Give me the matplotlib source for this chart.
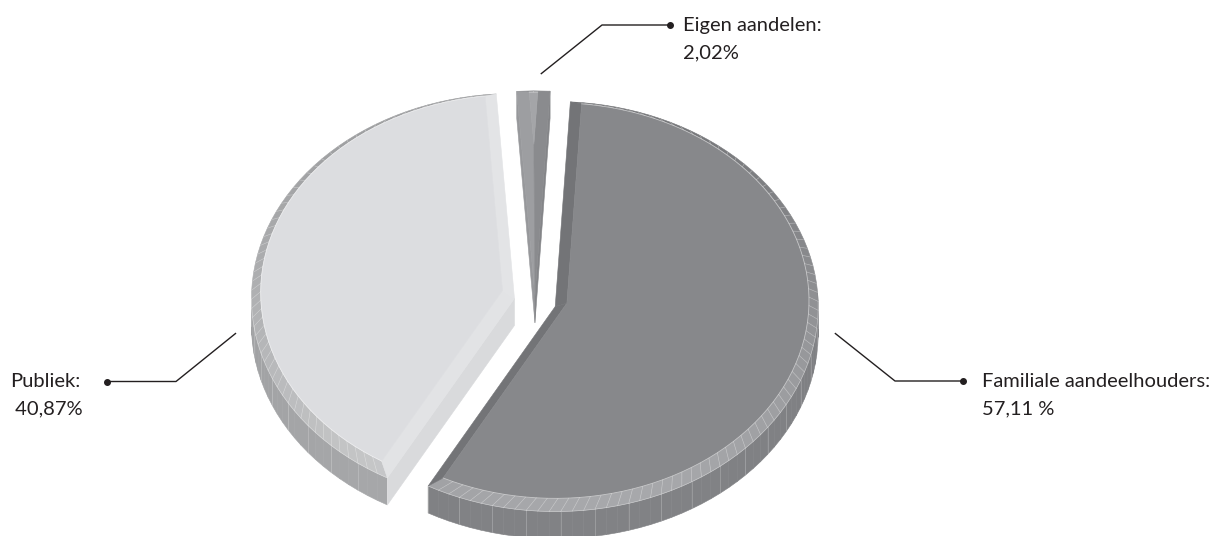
import numpy as np
import matplotlib.pyplot as plt
from matplotlib.patches import Polygon
from matplotlib.colors import to_rgb

plt.rcParams['font.family'] = ['Lato', 'DejaVu Sans']

labels = ['Familiale aandeelhouders:', 'Publiek:', 'Eigen aandelen:']
values = [57.11, 40.87, 2.02]
value_labels = ['57,11 %', ' 40,87%', '2,02%']

# slice styling: top face, rim bevel (dark/light side), wall, radial bevel strips
top_colors = ['#87888b', '#dcdde0', '#a4a5a8']
bevel_dark = ['#6f7073', '#9c9d9f', '#8a8b8e']
bevel_light = ['#a7a8ab', '#cbcccd', '#b0b1b4']
wall_dark = ['#7a7b7e', '#9a9b9d', '#88898c']
wall_light = ['#818285', '#a8a9ab', '#939497']
edge_colors = [('#737477', '#737477'), ('#e2e3e5', '#e3e4e6'), ('#9d9ea1', '#8a8b8e')]
explode = [0.08, 0.08, 0.03]

# label layout: rim anchor (angle, radius), elbow and dot in pixels, text origin
anchor_t = [98.5, 259.4, 1.2]
anchor_r = [1.075, 1.077, 1.053]
elbow = [(895, 381), (176, 381.5), (602, 25)]
dot = [(962.5, 381), (107, 381.5), (670, 25)]
text_pos = [(982, 386.7), (10, 386.7), (683, 30.5)]
line_gap = 27.4

W, H = 1225, 536
CX, CY = 535, 296
RX, RY = 263, 205
START = 3.3
INSET = 0.035
EDGE_INSET = 0.045
DROP = 6
DEPTH = 27
LIGHT = 170
STEP = 2.5
INK = '#231f20'


def mix(c1, c2, f):
    a, b = np.array(to_rgb(c1)), np.array(to_rgb(c2))
    return tuple(a + (b - a) * float(np.clip(f, 0, 1)))


def shade(t):
    return (np.cos(np.radians(t - LIGHT)) + 1) / 2


def proj(o, r, t, z=0.0):
    t = np.radians(np.atleast_1d(np.asarray(t, float)))
    x = o[0] + r * RX * np.sin(t)
    y = o[1] - r * RY * np.cos(t) + z
    return np.column_stack([x, y])


fig = plt.figure(figsize=(W / 100, H / 100), dpi=100)
ax = fig.add_axes([0, 0, 1, 1])
ax.set_xlim(0, W)
ax.set_ylim(H, 0)
ax.axis('off')


def poly(pts, color):
    ax.add_patch(Polygon(pts, closed=True, fc=color, ec=color, lw=0.4))


bounds = START + 360 * np.concatenate([[0], np.cumsum(values)]) / sum(values)
mids = (bounds[:-1] + bounds[1:]) / 2
origins = [(CX + explode[i] * RX * np.sin(np.radians(m)),
            CY - explode[i] * RY * np.cos(np.radians(m))) for i, m in enumerate(mids)]

# back slices first
order = sorted(range(len(values)), key=lambda i: -np.cos(np.radians(mids[i])))

for i in order:
    a0, a1 = bounds[i], bounds[i + 1]
    o = origins[i]
    n = max(3, int((a1 - a0) / STEP) + 1)
    ts = np.linspace(a0, a1, n)
    d = np.degrees(np.arcsin(EDGE_INSET / (1 - INSET)))
    ts_in = np.linspace(a0 + d, a1 - d, n)
    half = np.radians((a1 - a0) / 2)
    r_apex = min(EDGE_INSET / np.sin(half), 0.9)
    apex_in = proj(o, r_apex, mids[i], 0)

    # outer wall, back to front
    segs = [(ts[j], ts[j + 1]) for j in range(n - 1)]
    segs = [s for s in segs if np.cos(np.radians((s[0] + s[1]) / 2)) < 0.05]
    segs.sort(key=lambda s: -np.cos(np.radians((s[0] + s[1]) / 2)))
    for t0, t1 in segs:
        tm = (t0 + t1) / 2
        pts = np.vstack([proj(o, 1, [t0, t1], DROP), proj(o, 1, [t1, t0], DROP + DEPTH)])
        poly(pts, mix(wall_dark[i], wall_light[i], shade(tm)))

    # radial cut faces that turn toward the viewer
    for t, nrm, col in [(a0, a0 - 90, edge_colors[i][0]), (a1, a1 + 90, edge_colors[i][1])]:
        if np.cos(np.radians(nrm)) < 0.02:
            pts = np.vstack([proj(o, 0, t, DROP), proj(o, 1, t, DROP),
                             proj(o, 1, t, DROP + DEPTH), proj(o, 0, t, DROP + DEPTH)])
            poly(pts, mix(col, '#000000', 0.04))

    # rim bevel
    outer = proj(o, 1, ts, DROP)
    inner = proj(o, 1 - INSET, ts_in, 0)
    for j in range(n - 1):
        tm = (ts[j] + ts[j + 1]) / 2
        pts = np.vstack([outer[j], outer[j + 1], inner[j + 1], inner[j]])
        poly(pts, mix(bevel_dark[i], bevel_light[i], shade(tm)))

    # bevel strips along the radial edges
    poly(np.vstack([proj(o, 0, a0, DROP), outer[0], inner[0], apex_in]), edge_colors[i][0])
    poly(np.vstack([proj(o, 0, a1, DROP), outer[-1], inner[-1], apex_in]), edge_colors[i][1])

    # top face
    poly(np.vstack([apex_in, inner]), top_colors[i])

    # thin highlight lines on facets
    ax.plot(inner[:, 0], inner[:, 1], color='white', lw=0.6, alpha=0.5)
    for j in range(1, n - 1):
        ax.plot([inner[j, 0], outer[j, 0]], [inner[j, 1], outer[j, 1]],
                color='white', lw=0.45, alpha=0.35)
    front = np.cos(np.radians(ts)) < 0.05
    if front.sum() > 1:
        ax.plot(outer[front, 0], outer[front, 1], color='white', lw=0.5, alpha=0.4)
        for j in np.where(front)[0][::3]:
            p = proj(o, 1, ts[j], DROP)[0]
            ax.plot([p[0], p[0]], [p[1], p[1] + DEPTH], color='white', lw=0.45, alpha=0.3)

# labels with leader lines
for i in range(len(values)):
    a = proj(origins[i], anchor_r[i], anchor_t[i], 0)[0]
    xs = [a[0], elbow[i][0], dot[i][0]]
    ys = [a[1], elbow[i][1], dot[i][1]]
    ax.plot(xs, ys, color=INK, lw=1.0, solid_capstyle='butt')
    ax.plot(dot[i][0], dot[i][1], 'o', color=INK, ms=4)
    tx, ty = text_pos[i]
    ax.text(tx, ty, labels[i], fontsize=14.5, color=INK, ha='left', va='baseline')
    ax.text(tx, ty + line_gap, value_labels[i], fontsize=14.5, color=INK, ha='left', va='baseline')

fig.savefig('out.png', dpi=100, facecolor='white')
